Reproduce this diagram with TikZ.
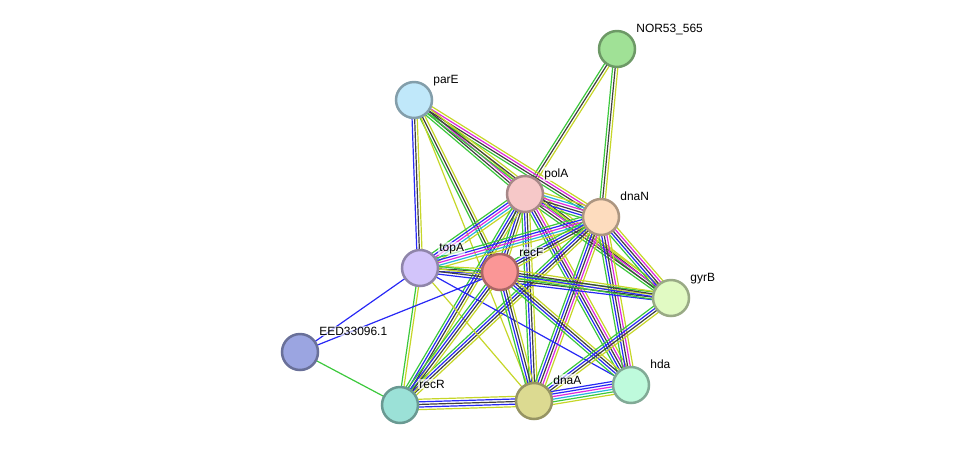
\documentclass[tikz,border=0pt]{standalone}
\usepackage{fontspec}
\setmainfont{Liberation Sans}
\usetikzlibrary{calc}
\pgfdeclarelayer{edges}
\pgfsetlayers{edges,main}
\definecolor{G}{RGB}{60,200,60}
\definecolor{K}{RGB}{64,64,64}
\definecolor{Y}{RGB}{198,214,40}
\definecolor{B}{RGB}{40,40,245}
\definecolor{M}{RGB}{222,40,222}
\definecolor{C}{RGB}{40,180,220}
\tikzset{
  prot/.style={circle,draw=#1!68!black,fill=#1,line width=0.05cm,minimum size=0.72cm,inner sep=0pt},
  plabel/.style={anchor=base west,font=\fontsize{6.8pt}{7pt}\selectfont,inner sep=0.6pt,text=black,fill=white,fill opacity=0.65,text opacity=1},
  evid/.style={line width=0.024cm}
}
\newcommand\eb[3]{%
  \foreach \cc [count=\ii] in {#3} {\xdef\ntot{\ii}}%
  \foreach \cc [count=\ii from 0] in {#3} {%
    \pgfmathsetmacro\off{(\ii-(\ntot-1)/2)*0.052}%
    \draw[evid,\cc] ($(#1.center)!\off cm!90:(#2.center)$) -- ($(#2.center)!\off cm!-90:(#1.center)$);%
  }%
}
\begin{document}
\begin{tikzpicture}[x=0.02cm,y=-0.02cm]
\useasboundingbox (0,0) rectangle (975,451);
\definecolor{cNOR}{RGB}{160,225,150}
\definecolor{cparE}{RGB}{192,232,250}
\definecolor{cpolA}{RGB}{246,200,200}
\definecolor{cdnaN}{RGB}{253,220,190}
\definecolor{ctopA}{RGB}{210,196,250}
\definecolor{crecF}{RGB}{250,150,150}
\definecolor{cgyrB}{RGB}{225,250,195}
\definecolor{cEED}{RGB}{155,165,225}
\definecolor{chda}{RGB}{190,250,220}
\definecolor{crecR}{RGB}{155,225,215}
\definecolor{cdnaA}{RGB}{220,218,145}
\node[prot=cNOR] (nor) at (617,49) {};
\node[prot=cparE] (parE) at (414,100) {};
\node[prot=cpolA] (polA) at (525,194) {};
\node[prot=cdnaN] (dnaN) at (601,217) {};
\node[prot=ctopA] (topA) at (420,268) {};
\node[prot=crecF] (recF) at (500,272) {};
\node[prot=cgyrB] (gyrB) at (671,298) {};
\node[prot=cEED] (eed) at (300,352) {};
\node[prot=chda] (hda) at (631,385) {};
\node[prot=crecR] (recR) at (400,405) {};
\node[prot=cdnaA] (dnaA) at (534,401) {};
\node[plabel] (lnor) at (635,32) {NOR53\_565};
\node[plabel] (lparE) at (432,83) {parE};
\node[plabel] (lpolA) at (543,177) {polA};
\node[plabel] (ldnaN) at (619,200) {dnaN};
\node[plabel] (ltopA) at (438,251) {topA};
\node[plabel] (lrecF) at (518,256) {recF};
\node[plabel] (lgyrB) at (689,281) {gyrB};
\node[plabel] (leed) at (318,335) {EED33096.1};
\node[plabel] (lhda) at (649,368) {hda};
\node[plabel] (lrecR) at (418,388) {recR};
\node[plabel] (ldnaA) at (552,384) {dnaA};
\begin{pgfonlayer}{edges}
\eb{nor}{polA}{G,K,Y}
\eb{nor}{dnaN}{G,K,Y}
\eb{parE}{topA}{B,K,Y}
\eb{parE}{recF}{G,K,Y}
\eb{parE}{dnaA}{Y}
\eb{parE}{polA}{G,K,M,Y}
\eb{parE}{dnaN}{G,K,M,Y}
\eb{parE}{gyrB}{G,K,Y}
\eb{polA}{dnaN}{G,B,K,M,C,Y}
\eb{polA}{topA}{G,B,M,C,Y}
\eb{polA}{recF}{G,B,K,Y}
\eb{polA}{gyrB}{G,K,M,Y}
\eb{polA}{hda}{G,B,K,M,Y}
\eb{polA}{dnaA}{G,B,K,Y}
\eb{polA}{recR}{G,B,K,Y}
\eb{dnaN}{topA}{G,B,M,C,Y}
\eb{dnaN}{recF}{G,B,K,Y}
\eb{dnaN}{gyrB}{G,B,K,M,Y}
\eb{dnaN}{hda}{G,B,K,M,Y}
\eb{dnaN}{dnaA}{G,B,K,M,Y}
\eb{dnaN}{recR}{G,B,K,Y}
\eb{topA}{recF}{B,K,Y}
\eb{topA}{gyrB}{B,K,Y,G}
\eb{topA}{eed}{B}
\eb{topA}{recR}{G,Y}
\eb{topA}{dnaA}{Y}
\eb{topA}{hda}{B}
\eb{recF}{gyrB}{G,B,K,Y}
\eb{recF}{eed}{B}
\eb{recF}{recR}{G,B,K,Y}
\eb{recF}{dnaA}{G,B,K,Y}
\eb{recF}{hda}{G,B,K,Y}
\eb{gyrB}{dnaA}{G,B,K,Y}
\eb{eed}{recR}{G}
\eb{recR}{dnaA}{Y,B,K,B,Y}
\eb{dnaA}{hda}{Y,G,C,M,B,B}
\end{pgfonlayer}
\end{tikzpicture}
\end{document}
